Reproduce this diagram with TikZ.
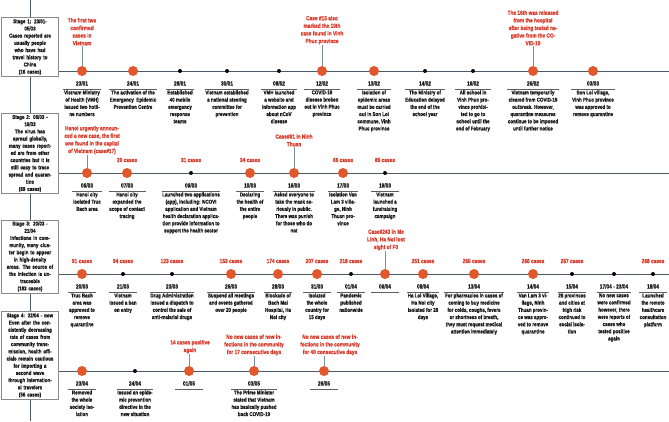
\documentclass[tikz,border=0pt]{standalone}
\usepackage{fontspec}
\setmainfont{Liberation Sans}[FakeStretch=0.8, BoldFeatures={FakeBold=0.8}]
\definecolor{tlc}{HTML}{4B5B6B}
\definecolor{dotor}{HTML}{E0582B}
\definecolor{redc}{HTML}{D63A2A}
\definecolor{txt}{HTML}{1A1A1A}
\definecolor{stemc}{HTML}{7F8C99}
\definecolor{boxc}{HTML}{8A8A8A}
\tikzset{
  tl/.style={draw=tlc, line width=1pt},
  odot/.style={circle, fill=dotor, inner sep=0pt, minimum size=10pt},
  bdot/.style={circle, fill=black, inner sep=0pt, minimum size=4pt},
  dlbl/.style={font=\fontsize{6}{7}\selectfont\bfseries, text=txt, inner sep=0pt, anchor=base},
  desc/.style={font=\fontsize{5.6}{7.2}\selectfont\bfseries, align=center, anchor=north, inner xsep=0.5pt, inner ysep=1.2pt, text=txt, minimum width=28pt},
  redl/.style={font=\fontsize{6}{7.6}\selectfont\bfseries, text=redc, align=center, inner sep=0.5pt, anchor=south},
  cnt/.style={font=\fontsize{6}{7}\selectfont\bfseries, text=redc, inner sep=0pt},
  stem/.style={draw=stemc, line width=0.8pt},
  uline/.style={draw=txt!70, line width=0.6pt},
  stage/.style={draw=boxc, fill=white, line width=0.8pt, text width=55pt, align=center, inner xsep=1pt, inner ysep=1.5pt, text=txt, font=\fontsize{5.6}{7.2}\selectfont\bfseries}
}
\newcommand{\ev}[6]{%
  \node[#4] (#1) at (#2,#3) {};
  \node[dlbl] (#1-dt) at (#2,#3+14.5) {#5};
  \node[desc] (#1-ds) at (#2,#3+18) {#6};
  \draw[uline] (#1-ds.north west) -- (#1-ds.north east);
}
\begin{document}
\begin{tikzpicture}[x=1pt,y=-1pt]
\useasboundingbox (0,0) rectangle (669,421);
% vertical spine
\coordinate (vtop) at (30,0);
\coordinate (vbot) at (30,421);
\draw[tl] (vtop) -- (vbot);
% timeline ends
\coordinate (t1e) at (669,71);
\coordinate (t2e) at (669,173);
\coordinate (t3e) at (669,274);
\coordinate (t4e) at (669,371);
% stage boxes
\node[stage] (s1) at (30,47) {Stage 1: 23/01-\\05/03\\Cases reported are\\usually people\\who have had\\travel history to\\China\\(16 cases)};
\node[stage] (s2) at (30,153.5) {Stage 2: 06/03 -\\19/03\\The virus has\\spread globally,\\many cases report-\\ed are from other\\countries but it is\\still easy to trace\\spread and quaran-\\tine\\(69 cases)};
\node[stage] (s3) at (30,256.5) {Stage 3: 20/03 -\\21/04\\Infections in com-\\munity, many clus-\\ter begin to appear\\in high-density\\areas. The source of\\the infection is un-\\traceable\\(183 cases)};
\node[stage] (s4) at (30,355.5) {Stage 4: 22/04 - now\\Even after the con-\\sistently decreasing\\rate of cases from\\community trans-\\mission, health offi-\\cials remain cautious\\for importing a\\second wave\\through internation-\\al travelers\\(56 cases)};
\draw[tl] (s1.east |- t1e) -- (t1e);
\draw[tl] (s2.east |- t2e) -- (t2e);
\draw[tl] (s3.east |- t3e) -- (t3e);
\draw[tl] (s4.east |- t4e) -- (t4e);

% ---------- Stage 1 ----------
\ev{e1a}{82}{71}{odot}{23/01}{Vietnam Ministry\\of Health (VMH)\\issued two hotli-\\ne numbers}
\ev{e1b}{133}{71}{odot}{24/01}{The activation of the\\Emergency\ \ Epidemic\\Prevention Centre}
\ev{e1c}{180}{71}{bdot}{28/01}{Established\\40 mobile\\emergency\\response\\teams}
\ev{e1d}{227}{71}{bdot}{30/01}{Vietnam established\\a national steering\\committee for\\prevention}
\ev{e1e}{279}{71}{bdot}{08/02}{VMH launched\\a website and\\information app\\about nCoV\\disease}
\ev{e1f}{322}{71}{odot}{12/02}{COVID-19\\disease broken\\out in Vinh Phuc\\province}
\ev{e1g}{374}{71}{odot}{13/02}{Isolation of\\epidemic areas\\must be carried\\out in Son Loi\\commune, Vinh\\Phuc province}
\ev{e1h}{425}{71}{bdot}{14/02}{The Ministry of\\Education delayed\\the end of the\\school year}
\ev{e1i}{473}{71}{bdot}{19/02}{All school in\\Vinh Phuc pro-\\vince prohibi-\\ted to go to\\school until the\\end of February}
\ev{e1j}{533}{71}{odot}{26/02}{Vietnam temporarily\\cleared from COVID-19\\outbreak. However,\\quarantine measures\\continue to be imposed\\until further notice}
\ev{e1k}{593}{71}{odot}{03/03}{Son Loi village,\\Vinh Phuc province\\was approved to\\remove quarantine}
\node[redl] (r1a) at (82,46) {The first two\\confirmed\\cases in\\Vietnam};
\node[redl] (r1f) at (322,45) {Case \#15 also\\marked the 10th\\case found in Vinh\\Phuc province};
\node[redl] (r1j) at (533,46) {The 16th was released\\from the hospital\\after being tested ne-\\gative from the CO-\\VID-19};
\draw[stem] (e1a.north) -- (r1a.south);
\draw[stem] (e1f.north) -- (r1f.south);
\draw[stem] (e1j.north) -- (r1j.south);

% ---------- Stage 2 ----------
\ev{e2a}{87}{173}{odot}{06/03}{Hanoi city\\isolated Truc\\Bach area}
\ev{e2b}{127}{173}{odot}{07/03}{Hanoi city\\expanded the\\scope of contact\\tracing}
\ev{e2c}{191}{173}{bdot}{09/03}{Launched two applications\\(app), including: NCOVI\\application and Vietnam\\health declaration applica-\\tion provide information to\\support the health sector}
\ev{e2d}{250}{173}{odot}{10/03}{Declaring\\the health of\\the entire\\people}
\ev{e2e}{294}{173}{odot}{16/03}{Asked everyone to\\take the mask se-\\riously in public.\\There was punish\\for those who do\\not}
\ev{e2f}{343}{173}{odot}{17/03}{Isolation Van\\Lam 3 villa-\\ge, Ninh\\Thuan pro-\\vince}
\ev{e2g}{385}{173}{bdot}{19/03}{Vietnam\\launched a\\fundraising\\campaign}
\node[redl] (r2a) at (92,155) {Hanoi urgently announ-\\ced a new case, the first\\one found in the capital\\of Vietnam (case\#17)};
\node[redl] (r2e) at (294,147) {Case\#61 in Ninh\\Thuan};
\draw[stem] (e2a.north) -- (e2a.north |- r2a.south);
\draw[stem] (e2e.north) -- (r2e.south);
\node[cnt] (c2b) at (127,160) {20 cases};
\node[cnt] (c2c) at (191,160) {31 cases};
\node[cnt] (c2d) at (250,160) {34 cases};
\node[cnt] (c2f) at (343,160) {66 cases};
\node[cnt] (c2g) at (385,160) {85 cases};

% ---------- Stage 3 ----------
\ev{e3a}{82}{274}{odot}{20/03}{Truc Bach\\area was\\approved to\\remove\\quarantine}
\ev{e3b}{123}{274}{bdot}{21/03}{Vietnam\\issued a ban\\on entry}
\ev{e3c}{172}{274}{bdot}{23/03}{Drug Administration\\issued a dispatch to\\control the sale of\\anti-malarial drugs}
\ev{e3d}{231}{274}{odot}{26/03}{Suspend all meetings\\and events gathered\\over 20 people}
\ev{e3e}{278}{274}{odot}{28/03}{Blockade of\\Bach Mai\\Hospital, Ha\\Noi city}
\ev{e3f}{317}{274}{odot}{31/03}{Isolated\\the whole\\country for\\15 days}
\ev{e3g}{351}{274}{bdot}{01/04}{Pandemic\\published\\nationwide}
\ev{e3h}{385}{274}{odot}{06/04}{}
\ev{e3i}{423}{274}{odot}{08/04}{Ha Loi Village,\\Ha Noi city\\isolated for 28\\days}
\ev{e3j}{474}{274}{odot}{13/04}{For pharmacies in cases of\\coming to buy medicine\\for colds, coughs, fevers\\or shortness of breath,\\they must request medical\\attention immediately}
\ev{e3k}{533}{274}{odot}{14/04}{Van Lam 3 vi-\\llage, Ninh\\Thuan provin-\\ce was appro-\\ved to remove\\quarantine}
\ev{e3l}{572}{274}{bdot}{15/04}{28 provinces\\and cities at\\high risk\\continued to\\social isola-\\tion}
\ev{e3m}{614}{274}{bdot}{17/04 - 23/04}{No new cases\\were confirmed\\however, there\\were reports of\\cases who\\tested positive\\again}
\ev{e3n}{653}{274}{bdot}{18/04}{Launched\\the remote\\healthcare\\consultation\\platform}
\node[redl] (r3h) at (386,251) {Case\#243 in Me\\Linh, Ha Noi lost\\sight of F0};
\draw[stem] (e3h.north) -- (e3h.north |- r3h.south);
\node[cnt] (c3a) at (82,261) {91 cases};
\node[cnt] (c3b) at (123,261) {94 cases};
\node[cnt] (c3c) at (172,261) {123 cases};
\node[cnt] (c3d) at (231,261) {153 cases};
\node[cnt] (c3e) at (278,261) {174 cases};
\node[cnt] (c3f) at (317,261) {207 cases};
\node[cnt] (c3g) at (351,261) {218 cases};
\node[cnt] (c3i) at (423,261) {251 cases};
\node[cnt] (c3j) at (474,261) {265 cases};
\node[cnt] (c3k) at (533,261) {266 cases};
\node[cnt] (c3l) at (572,261) {267 cases};
\node[cnt] (c3n) at (653,261) {268 cases};

% ---------- Stage 4 ----------
\ev{e4a}{82}{371}{odot}{23/04}{Removed\\the whole\\society iso-\\lation}
\ev{e4b}{135}{371}{bdot}{24/04}{Issued an epide-\\mic prevention\\directive in the\\new situation}
\ev{e4c}{189}{371}{odot}{01/05}{}
\ev{e4d}{254}{371}{odot}{03/05}{The Prime Minister\\stated that Vietnam\\has basically pushed\\back COVID-19}
\ev{e4e}{324}{371}{odot}{26/05}{}
\node[redl] (r4c) at (190,354) {14 cases positive\\again};
\node[redl] (r4d) at (254,356) {No new cases of new in-\\fections in the community\\for 17 consecutive days};
\node[redl] (r4e) at (330,356) {No new cases of new in-\\fections in the community\\for 40 consecutive days};
\draw[stem] (e4c.north) -- (e4c.north |- r4c.south);
\draw[stem] (e4d.north) -- (r4d.south);
\draw[stem] (e4e.north) -- (e4e.north |- r4e.south);
\end{tikzpicture}
\end{document}
